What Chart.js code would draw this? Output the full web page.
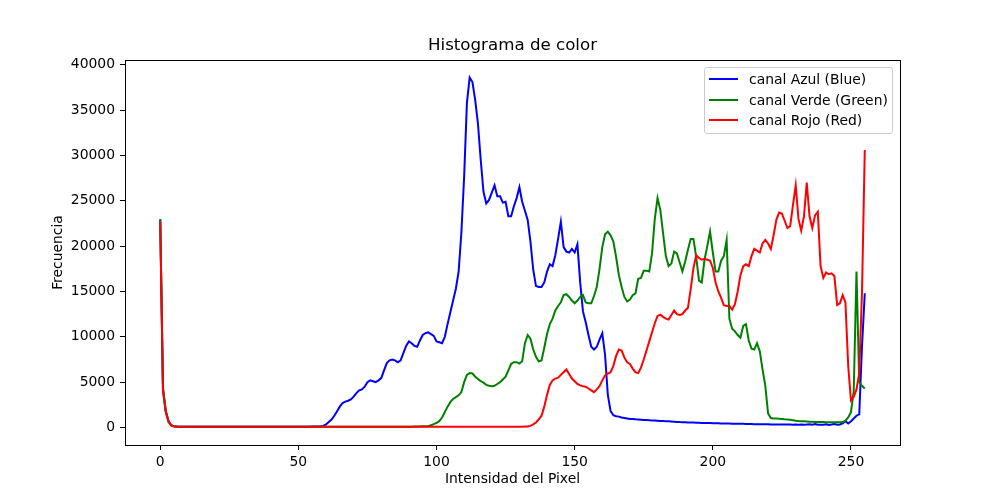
<!DOCTYPE html>
<html>
<head>
<meta charset="utf-8">
<title>Histograma de color</title>
<script src="https://cdn.jsdelivr.net/npm/chart.js@4.4.1/dist/chart.umd.min.js"></script>
<style>
  body { margin: 0; background: #fff; }
  #wrap { position: relative; width: 1000px; height: 500px; }
  #legend {
    position: absolute; left: 704px; top: 67px; width: 189px; height: 67px;
    box-sizing: border-box; border: 1px solid #cccccc; border-radius: 3px;
    background: rgba(255, 255, 255, 0.8);
    font-family: 'DejaVu Sans', sans-serif; font-size: 13.9px; color: #000;
  }
  .item { position: absolute; left: 0; height: 20px; line-height: 20px; white-space: nowrap; }
  .swatch { position: absolute; left: 4px; top: 9px; width: 29px; height: 2px; }
  .label { position: absolute; left: 44px; top: 0; }
</style>
</head>
<body>
<div id="wrap">
  <canvas id="histChart" width="1000" height="500"></canvas>
  <div id="legend"></div>
</div>
<script>
// pixel intensity bins 0..255
const intensities = Array.from({ length: 256 }, (_, i) => i);

const blueCounts = [
  22900, 4200, 1800, 700, 250, 130, 100, 90, 85, 80,
  80, 75, 80, 70, 75, 70, 80, 75, 70, 75,
  70, 75, 80, 70, 75, 80, 85, 75, 80, 70,
  75, 80, 70, 75, 80, 90, 85, 80, 75, 80,
  75, 80, 70, 75, 70, 80, 75, 70, 80, 85,
  80, 90, 85, 90, 95, 100, 110, 120, 140, 180,
  330, 600, 880, 1300, 1800, 2300, 2700, 2850, 2950, 3100,
  3400, 3800, 4100, 4200, 4500, 5000, 5200, 5100, 5000, 5200,
  5450, 6300, 7100, 7400, 7500, 7400, 7200, 7400, 8200, 9000,
  9500, 9300, 9000, 8900, 9600, 10200, 10400, 10500, 10300, 10100,
  9500, 9400, 9300, 10000, 11400, 12700, 14000, 15300, 17200, 21500,
  27700, 35800, 38600, 38100, 36100, 33500, 29500, 26000, 24700, 25100,
  25900, 26700, 25500, 25500, 24800, 24900, 23300, 23300, 24400, 25300,
  26500, 24900, 23900, 22900, 20500, 17400, 15600, 15500, 15500, 16000,
  17200, 18000, 17800, 19000, 20800, 22700, 19900, 19400, 19300, 19700,
  19300, 20200, 16000, 12800, 11600, 10200, 8900, 8600, 8900, 9700,
  10400, 8000, 3600, 1800, 1350, 1250, 1200, 1100, 1050, 1000,
  950, 930, 900, 880, 860, 840, 820, 800, 780, 760,
  740, 720, 710, 700, 680, 660, 640, 620, 600, 590,
  580, 560, 550, 540, 530, 520, 510, 500, 500, 490,
  480, 470, 460, 450, 440, 430, 430, 420, 420, 410,
  400, 400, 390, 380, 380, 370, 370, 360, 360, 350,
  350, 340, 340, 330, 340, 330, 320, 330, 320, 310,
  320, 310, 330, 300, 320, 350, 300, 380, 310, 300,
  300, 350, 290, 320, 380, 300, 330, 450, 700, 450,
  700, 1000, 1300, 1450, 9000, 14800
];

const greenCounts = [
  23000, 4400, 1850, 700, 250, 130, 100, 90, 85, 80,
  80, 75, 80, 70, 75, 70, 80, 75, 70, 75,
  70, 75, 80, 70, 75, 80, 85, 75, 80, 70,
  75, 80, 70, 75, 80, 85, 80, 80, 75, 80,
  75, 80, 70, 75, 70, 80, 75, 70, 80, 75,
  80, 75, 70, 80, 75, 70, 80, 75, 80, 70,
  75, 80, 70, 75, 80, 70, 75, 80, 75, 70,
  80, 75, 70, 75, 80, 70, 75, 80, 75, 70,
  75, 80, 75, 70, 80, 75, 80, 85, 80, 85,
  90, 95, 100, 110, 120, 130, 140, 150, 250, 380,
  520, 700, 1100, 1700, 2300, 2800, 3150, 3350, 3550, 3900,
  5000, 5800, 6000, 5950, 5600, 5350, 5100, 4950, 4700, 4600,
  4550, 4600, 4800, 5000, 5300, 5600, 6300, 7000, 7200, 7200,
  7050, 7300, 9300, 10200, 9800, 8600, 7800, 7300, 7400, 8800,
  10300, 11400, 12000, 12900, 13400, 13800, 14600, 14700, 14400, 14000,
  13700, 14000, 14400, 14600, 13800, 13700, 13700, 14500, 15500, 17500,
  19900, 21300, 21600, 21200, 20500, 18800, 16800, 15500, 14400, 13900,
  14100, 14600, 14800, 16400, 16500, 17300, 17300, 17200, 19200, 23000,
  25300, 24000, 21400, 18900, 17800, 18100, 19400, 19200, 18200, 17200,
  18300, 19600, 20800, 20800, 18800, 16200, 16000, 18500, 20000, 21600,
  19300, 17200, 17200, 18400, 18900, 20700, 12000, 10900, 10600, 10200,
  9900, 11200, 11400, 9600, 8700, 8600, 9300, 8400, 6400, 4600,
  1550, 1050, 1000, 980, 960, 930, 900, 880, 850, 800,
  750, 720, 700, 680, 660, 640, 630, 620, 610, 600,
  600, 590, 590, 580, 580, 590, 590, 600, 750, 1100,
  1700, 4000, 17200, 5000, 4600, 4300
];

const redCounts = [
  22700, 4000, 1700, 600, 200, 100, 90, 85, 80, 80,
  75, 80, 70, 75, 80, 75, 70, 80, 75, 70,
  80, 75, 70, 75, 80, 70, 75, 80, 75, 70,
  75, 80, 70, 75, 80, 75, 80, 85, 80, 75,
  70, 75, 80, 70, 75, 80, 75, 70, 80, 75,
  70, 75, 80, 75, 70, 80, 75, 70, 75, 80,
  75, 70, 80, 75, 70, 75, 80, 70, 75, 80,
  75, 70, 80, 75, 70, 75, 80, 75, 70, 80,
  75, 70, 75, 80, 70, 75, 80, 75, 70, 75,
  80, 75, 70, 80, 75, 70, 75, 80, 75, 70,
  75, 80, 75, 70, 80, 75, 70, 75, 80, 75,
  70, 80, 75, 70, 75, 80, 75, 70, 80, 75,
  70, 75, 80, 75, 70, 80, 85, 80, 85, 90,
  90, 95, 100, 110, 180, 350, 550, 900, 1300, 2300,
  3600, 4700, 5200, 5400, 5500, 5800, 6100, 6400, 5900, 5400,
  5100, 4800, 4650, 4550, 4500, 4300, 4100, 3900, 4200, 4550,
  5200, 5750, 5950, 6100, 6800, 7900, 8600, 8500, 7700, 7200,
  7000, 6500, 6100, 6000, 6600, 7500, 8500, 9500, 10500, 11500,
  12300, 12450, 12200, 12000, 11900, 12400, 12900, 12500, 12400, 12500,
  12900, 13200, 15300, 17600, 19000, 18700, 18500, 18600, 18500, 18400,
  17600, 16000, 15000, 14300, 13500, 13400, 13400, 13000, 13600, 15000,
  16800, 17800, 18000, 17800, 18900, 19700, 19500, 19300, 20300, 20700,
  20300, 19700, 21200, 22900, 23700, 23600, 22800, 22000, 22200, 24500,
  26700, 23000, 21700, 23300, 27000, 23300, 22000, 23400, 23800, 17800,
  16500, 17100, 16900, 17000, 16700, 13500, 13700, 14600, 13800, 6800,
  3000, 3400, 4200, 6000, 15000, 30600
];

const seriesNames = ['canal Azul (Blue)', 'canal Verde (Green)', 'canal Rojo (Red)'];
const seriesColors = ['#0000ff', '#008000', '#ff0000'];
const xTicks = [0, 50, 100, 150, 200, 250];
const yTicks = [0, 5000, 10000, 15000, 20000, 25000, 30000, 35000, 40000];

// matplotlib-like 5% margins
const peak = Math.max(...blueCounts, ...greenCounts, ...redCounts);
const xLast = intensities[intensities.length - 1];

Chart.defaults.font.family = "'DejaVu Sans', sans-serif";
Chart.defaults.color = '#000';

const framePlugin = {
  id: 'frame',
  afterDraw(chart) {
    const { ctx, chartArea: a } = chart;
    ctx.save();
    ctx.strokeStyle = '#000';
    ctx.lineWidth = 1;
    ctx.strokeRect(a.left + 0.5, a.top + 0.5, a.right - a.left, a.bottom - a.top);
    ctx.restore();
  }
};

const axisGrid = { display: true, drawOnChartArea: false, drawTicks: true, tickLength: 5, tickColor: '#000', tickWidth: 1 };
const axisBorder = { display: true, color: '#000', width: 1 };

const allCounts = [blueCounts, greenCounts, redCounts];
const datasets = allCounts.map((counts, k) => ({
  label: seriesNames[k],
  data: counts.map((v, i) => ({ x: intensities[i], y: v })),
  borderColor: seriesColors[k],
  backgroundColor: seriesColors[k],
  borderWidth: 2,
  pointRadius: 0,
  tension: 0,
  fill: false,
  order: 3 - k
}));

new Chart(document.getElementById('histChart').getContext('2d'), {
  type: 'line',
  data: { datasets: datasets },
  options: {
    responsive: false,
    animation: false,
    layout: { padding: { left: 0, right: 100, top: 0, bottom: 0 } },
    plugins: {
      legend: { display: false },
      tooltip: { enabled: false },
      title: {
        display: true,
        text: 'Histograma de color',
        fullSize: false,
        color: '#000',
        font: { size: 16.67, weight: 'normal' },
        padding: { top: 36, bottom: 4 }
      }
    },
    scales: {
      x: {
        type: 'linear',
        min: -0.05 * xLast,
        max: 1.05 * xLast,
        afterBuildTicks: s => { s.ticks = xTicks.map(v => ({ value: v })); },
        afterFit: s => { s.height = 55; },
        grid: axisGrid,
        border: axisBorder,
        ticks: { color: '#000', font: { size: 13.9 }, padding: 4, maxRotation: 0, autoSkip: false, callback: v => String(v) },
        title: { display: true, text: 'Intensidad del Pixel', color: '#000', font: { size: 13.9 }, padding: { top: 0, bottom: 12 } }
      },
      y: {
        type: 'linear',
        min: -0.05 * peak,
        max: 1.05 * peak,
        afterBuildTicks: s => { s.ticks = yTicks.map(v => ({ value: v })); },
        afterFit: s => { s.width = 125; },
        grid: axisGrid,
        border: axisBorder,
        ticks: { color: '#000', font: { size: 13.9 }, padding: 5, autoSkip: false, callback: v => String(v) },
        title: { display: true, text: 'Frecuencia', color: '#000', font: { size: 13.9 }, padding: { top: 50, bottom: 0 } }
      }
    }
  },
  plugins: [framePlugin]
});

// legend box, upper right like matplotlib
const legend = document.getElementById('legend');
seriesNames.forEach((name, k) => {
  const item = document.createElement('div');
  item.className = 'item';
  item.style.top = (1 + k * 20.5) + 'px';
  const swatch = document.createElement('span');
  swatch.className = 'swatch';
  swatch.style.background = seriesColors[k];
  const label = document.createElement('span');
  label.className = 'label';
  label.textContent = name;
  item.appendChild(swatch);
  item.appendChild(label);
  legend.appendChild(item);
});
</script>
</body>
</html>
